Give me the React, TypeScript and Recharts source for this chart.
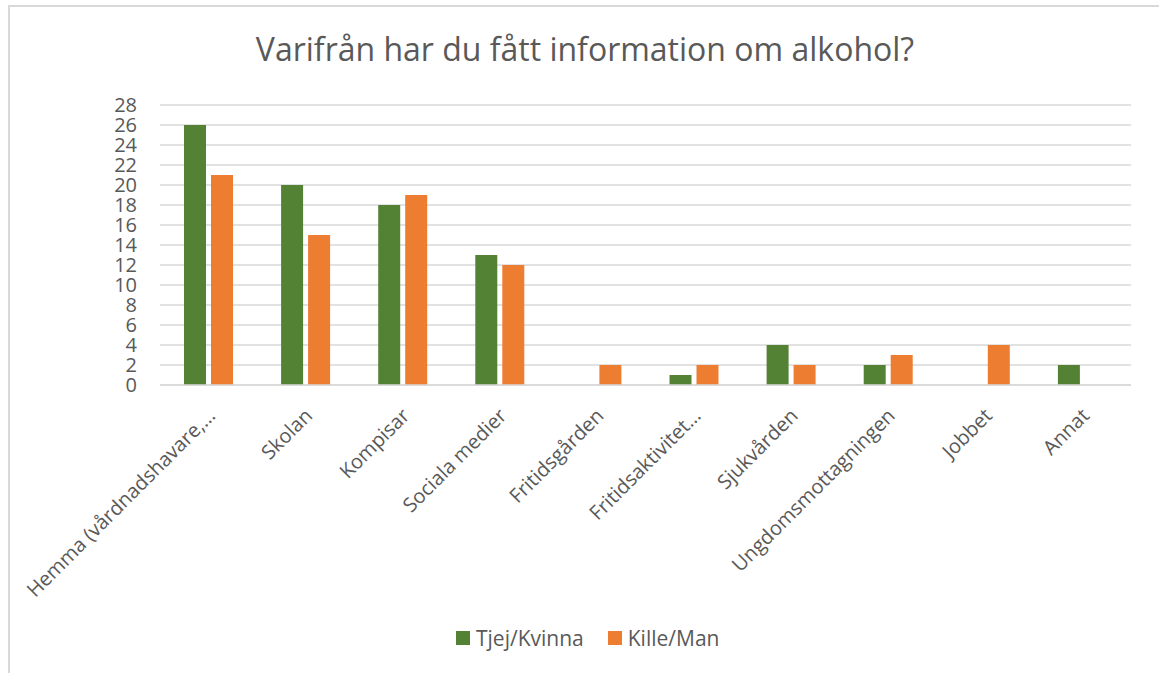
import { Bar, BarChart, CartesianGrid, XAxis, YAxis } from "recharts";

const categories = [
  "Hemma (vårdnadshavare,…",
  "Skolan",
  "Kompisar",
  "Sociala medier",
  "Fritidsgården",
  "Fritidsaktivitet…",
  "Sjukvården",
  "Ungdomsmottagningen",
  "Jobbet",
  "Annat",
];
const tjej = [26, 20, 18, 13, 0, 1, 4, 2, 0, 2];
const kille = [21, 15, 19, 12, 2, 2, 2, 3, 4, 0];
const yTicks = [0, 2, 4, 6, 8, 10, 12, 14, 16, 18, 20, 22, 24, 26, 28];

const GREEN = "#548235";
const ORANGE = "#ED7D31";
const TEXT = "#595959";
const GRID = "#d9d9d9";
const FONT = "'Open Sans', sans-serif";

const data = categories.map((c, i) => ({ name: c, tjej: tjej[i], kille: kille[i] }));

// rotated category label, end of text sits just under the tick
function SlantTick({ x, y, payload }: any) {
  const tx = x + 8;
  const ty = y + 24;
  return (
    <text
      x={tx}
      y={ty}
      transform={`rotate(-45, ${tx}, ${ty})`}
      textAnchor="end"
      fill={TEXT}
      fontSize={20}
      fontFamily={FONT}
    >
      {payload.value}
    </text>
  );
}

export default function App() {
  return (
    <div style={{ position: "absolute", left: 0, top: 0, width: 1159, height: 673, overflow: "hidden", background: "#fff", fontFamily: FONT }}>
      <div style={{ position: "absolute", left: 8, top: 5, width: 1160, height: 680, borderTop: `2px solid ${GRID}`, borderLeft: `2px solid ${GRID}`, boxSizing: "border-box" }} />
      <div style={{ position: "absolute", left: 0, top: 27, width: 1170, textAlign: "center", fontSize: 32, color: TEXT }}>
        Varifrån har du fått information om alkohol?
      </div>
      <BarChart
        width={1159}
        height={673}
        data={data}
        margin={{ top: 105, right: 28, left: 60, bottom: 88 }}
        barGap={5}
        barSize={22}
        style={{ position: "absolute", left: 0, top: 0 }}
      >
        <CartesianGrid vertical={false} stroke={GRID} strokeWidth={1.5} />
        <XAxis
          dataKey="name"
          interval={0}
          height={200}
          tick={<SlantTick />}
          tickLine={false}
          axisLine={{ stroke: GRID, strokeWidth: 1.5 }}
        />
        <YAxis
          domain={[0, 28]}
          ticks={yTicks}
          interval={0}
          width={100}
          tickSize={0}
          tickMargin={23}
          tickLine={false}
          axisLine={false}
          tick={{ fill: TEXT, fontSize: 20, fontFamily: FONT }}
        />
        <Bar dataKey="tjej" name="Tjej/Kvinna" fill={GREEN} isAnimationActive={false} />
        <Bar dataKey="kille" name="Kille/Man" fill={ORANGE} isAnimationActive={false} />
      </BarChart>
      <div style={{ position: "absolute", left: 456, top: 624, display: "flex", alignItems: "center", fontSize: 21, color: TEXT }}>
        <span style={{ width: 14, height: 14, background: GREEN, display: "inline-block", marginRight: 6 }} />
        <span>Tjej/Kvinna</span>
        <span style={{ width: 14, height: 14, background: ORANGE, display: "inline-block", marginLeft: 24, marginRight: 6 }} />
        <span>Kille/Man</span>
      </div>
    </div>
  );
}
